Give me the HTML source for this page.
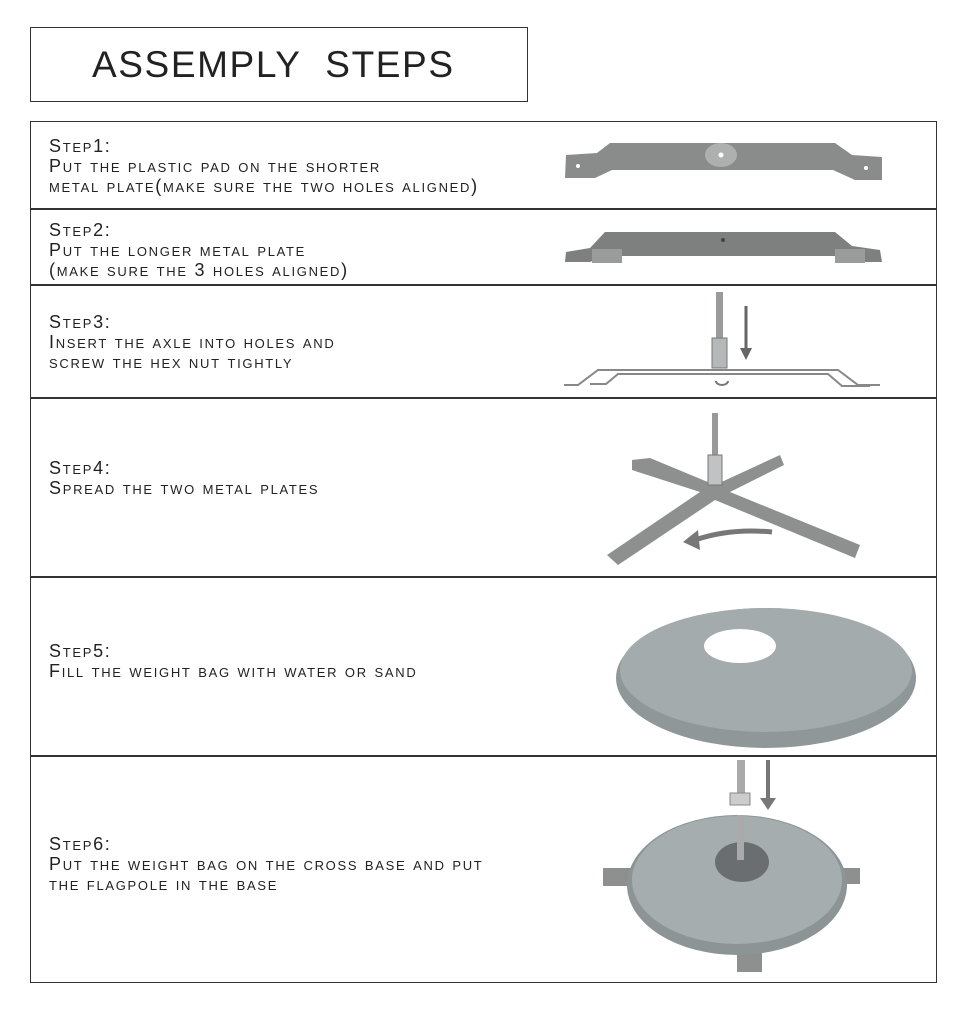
<!DOCTYPE html>
<html><head><meta charset="utf-8"><style>
body{margin:0;width:960px;height:1024px;background:#fff;position:relative;overflow:hidden;font-family:"Liberation Sans",sans-serif;color:#222}
.t{position:absolute;left:49px;font-size:18px;font-variant:small-caps;letter-spacing:1.7px;line-height:20px;white-space:nowrap}
.title{position:absolute;left:30px;top:27px;width:496px;height:73px;border:1.5px solid #333;}
.title span{position:absolute;left:61px;top:16px;font-size:37px;letter-spacing:1.6px;color:#222}
.hl{position:absolute;left:30px;width:907px;height:0;border-top:2px solid #333}
</style></head><body>
<div class="title"><span>ASSEMPLY&nbsp; STEPS</span></div>
<div style="position:absolute;left:30px;top:121px;width:905px;height:860px;border:1.5px solid #333"></div>
<div class="hl" style="top:208px"></div>
<div class="hl" style="top:284px"></div>
<div class="hl" style="top:397px"></div>
<div class="hl" style="top:576px"></div>
<div class="hl" style="top:755px"></div>

<div class="t" style="top:136px">Step1:<br>Put the plastic pad on the shorter<br>metal plate(make sure the two holes aligned)</div>
<div class="t" style="top:220px">Step2:<br>Put the longer metal plate<br>(make sure the 3 holes aligned)</div>
<div class="t" style="top:312px">Step3:<br>Insert the axle into holes and<br>screw the hex nut tightly</div>
<div class="t" style="top:458px">Step4:<br>Spread the two metal plates</div>
<div class="t" style="top:641px">Step5:<br>Fill the weight bag with water or sand</div>
<div class="t" style="top:834px">Step6:<br>Put the weight bag on the cross base and put<br>the flagpole in the base</div>

<svg width="960" height="1024" style="position:absolute;left:0;top:0">
<path d="M566,155 L597,153 L610,143 L835,143 L852,155 L882,157 L882,180 L855,180 L833,170 L612,170 L595,178 L565,178 Z" fill="#8a8c8c"/>
<ellipse cx="721" cy="155" rx="16" ry="12" fill="#aeb0b0"/>
<circle cx="721" cy="155" r="2.5" fill="#fff"/><circle cx="578" cy="166" r="2" fill="#fff"/><circle cx="866" cy="168" r="2" fill="#fff"/>
<path d="M566,252 L590,248 L605,232 L835,232 L852,246 L880,250 L882,262 L855,262 L840,256 L605,256 L590,262 L565,262 Z" fill="#7e8080"/>
<rect x="592" y="249" width="30" height="14" fill="#9a9c9c"/><rect x="835" y="249" width="30" height="14" fill="#9a9c9c"/>
<circle cx="723" cy="240" r="2" fill="#444"/>
<g fill="none" stroke="#888" stroke-width="2">
<path d="M564,385 L578,385 L598,370 L838,370 L858,385 L880,385"/>
<path d="M590,384 L606,384 L618,374 L828,374 L842,386 L870,386"/>
</g>
<rect x="716" y="292" width="7" height="48" fill="#9a9c9c"/>
<rect x="712" y="338" width="15" height="30" fill="#b5b8ba" stroke="#777"/>
<line x1="746" y1="306" x2="746" y2="350" stroke="#666" stroke-width="3"/>
<path d="M740,348 L752,348 L746,360 Z" fill="#666"/>
<path d="M716,381 a6,4 0 1 0 12,0" fill="none" stroke="#777" stroke-width="2"/>
<path d="M632,460 L650,458 L715,485 L780,455 L784,465 L730,492 L860,545 L855,558 L715,500 L618,565 L607,555 L700,492 L632,470 Z" fill="#8e9090"/>
<rect x="712" y="413" width="6" height="45" fill="#999"/>
<rect x="708" y="455" width="14" height="30" fill="#c0c2c4" stroke="#777"/>
<path d="M772,532 Q730,528 695,540" fill="none" stroke="#777" stroke-width="5"/>
<path d="M683,542 L698,530 L700,550 Z" fill="#777"/>
<ellipse cx="766" cy="678" rx="150" ry="70" fill="#8f9799"/>
<ellipse cx="766" cy="670" rx="146" ry="62" fill="#a3abad"/>
<ellipse cx="740" cy="646" rx="36" ry="17" fill="#fff"/>
<rect x="603" y="868" width="40" height="18" fill="#8e9090"/><rect x="835" y="868" width="25" height="16" fill="#8e9090"/>
<rect x="737" y="950" width="25" height="22" fill="#8e9090"/>
<ellipse cx="737" cy="885" rx="110" ry="70" fill="#8c9496"/>
<ellipse cx="737" cy="880" rx="105" ry="64" fill="#a5adaf"/>
<ellipse cx="742" cy="862" rx="27" ry="20" fill="#6a6e70"/>
<rect x="737" y="760" width="8" height="35" fill="#aaa"/><rect x="730" y="793" width="20" height="12" fill="#ccc" stroke="#888"/>
<rect x="737" y="815" width="7" height="45" fill="#aaa"/>
<line x1="768" y1="760" x2="768" y2="800" stroke="#777" stroke-width="4"/>
<path d="M760,798 L776,798 L768,810 Z" fill="#777"/>
</svg>
</body></html>
